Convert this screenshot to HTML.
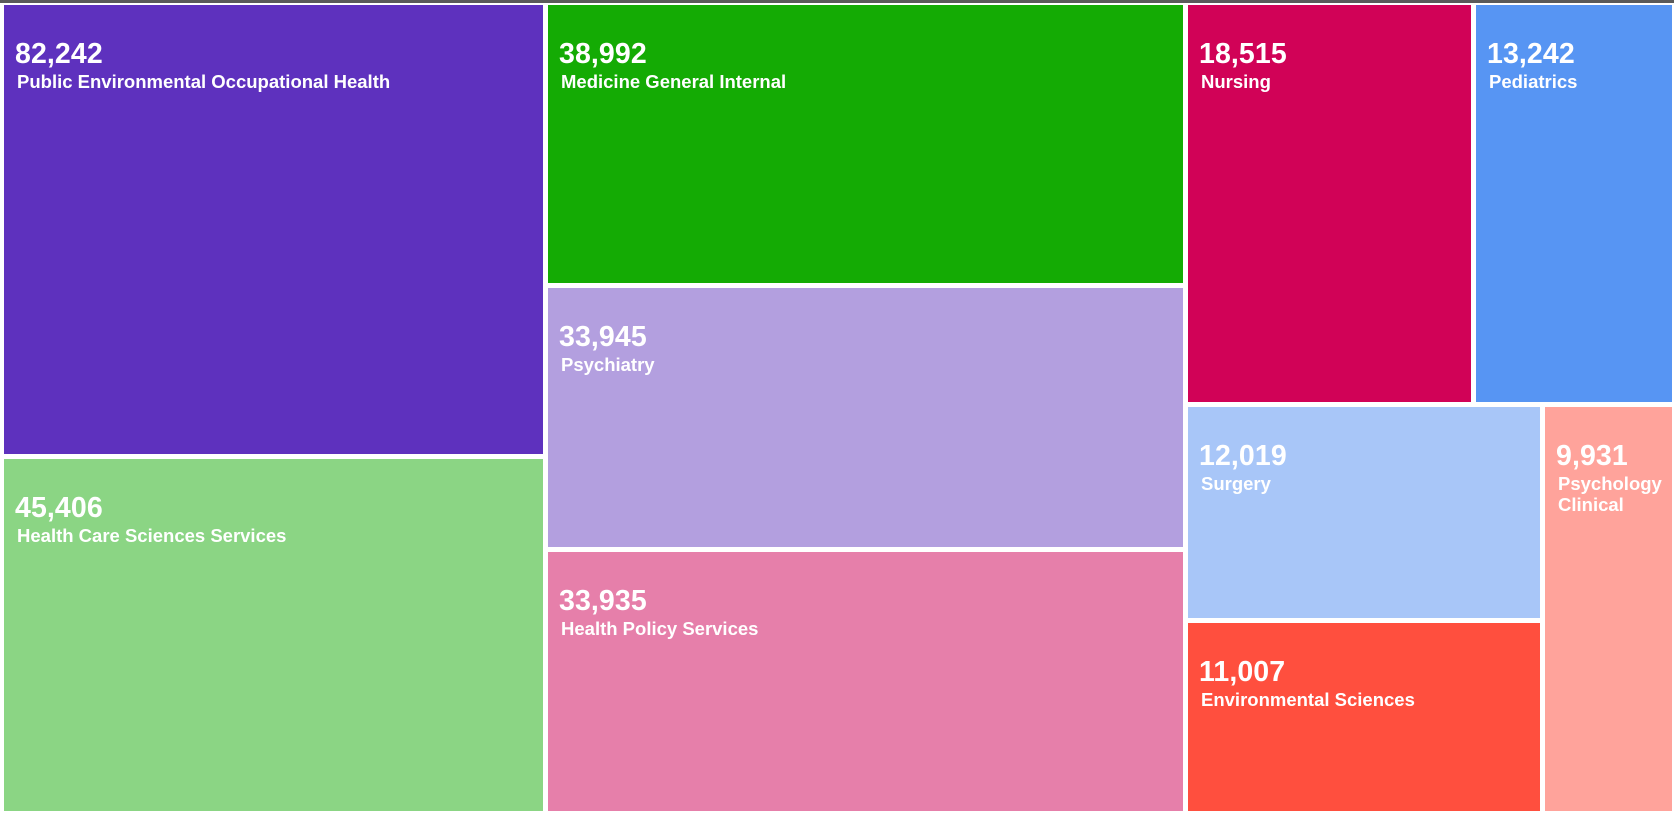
<!DOCTYPE html>
<html><head><meta charset="utf-8"><style>
html,body{margin:0;padding:0;background:#fff;width:1674px;height:814px;overflow:hidden;font-family:"Liberation Sans",sans-serif}
#topbar{position:absolute;left:0;top:0;width:1674px;height:3px;background:#5a5a5a}
#chart{position:absolute;left:0;top:0;width:1674px;height:814px}
.tile{position:absolute;box-sizing:border-box;overflow:hidden;color:#fff}
.val{position:absolute;left:11px;top:33px;font-size:28.5px;font-weight:bold;letter-spacing:0.1px}
.nm{position:absolute;left:13px;top:66px;font-size:18.5px;font-weight:bold;line-height:21px}
</style></head><body>
<div id="topbar"></div>
<div id="chart"></div>
<script>
const categories=["Public Environmental Occupational Health","Health Care Sciences Services","Medicine General Internal","Psychiatry","Health Policy Services","Nursing","Pediatrics","Surgery","Environmental Sciences","Psychology Clinical"];
const values=[82242,45406,38992,33945,33935,18515,13242,12019,11007,9931];
const colors=["#5E31BE","#8BD584","#14AB04","#B39FDF","#E67FAA","#D10257","#5795F3","#A8C6F8","#FF4F3E","#FFA39B"];
// layout geometry (not data)
const X0=4,Y0=5,X1=1672,Y1=811,GAP=5;
const colFrac=[504,594,453];
const chart=document.getElementById('chart');
const w=(v,p)=>Math.pow(v,p||0.5);
function tile(i,x,y,wd,ht){
  const d=document.createElement('div');
  d.className='tile';
  
  
  d.style.cssText=`left:${x}px;top:${y}px;width:${wd}px;height:${ht}px;background:${colors[i]}`;
  const v=document.createElement('div');v.className='val';v.textContent=values[i].toLocaleString('en-US');
  
  
  const n=document.createElement('div');n.className='nm';n.textContent=categories[i];n.style.width=(wd-20)+'px';
  
  
  d.appendChild(v);d.appendChild(n);chart.appendChild(d);
}
function vsplit(idx,x,y,wd,ht,p){
  const tot=idx.reduce((s,i)=>s+w(values[i],p),0);const avail=ht-GAP*(idx.length-1);let cy=y;
  idx.forEach((i,k)=>{const h=k==idx.length-1?y+ht-cy:Math.round(avail*w(values[i],p)/tot);tile(i,x,cy,wd,h);cy+=h+GAP;});
}
function hsplitW(idx){return idx.reduce((s,i)=>s+w(values[i]),0);}
const totalW=X1-X0-GAP*2, fs=colFrac.reduce((a,b)=>a+b,0);
const cw=colFrac.map(f=>Math.round(totalW*f/fs));
let cx=X0;
vsplit([0,1],cx,Y0,cw[0],Y1-Y0,0.41);cx+=cw[0]+GAP;
vsplit([2,3,4],cx,Y0,cw[1],Y1-Y0,0.5);cx+=cw[1]+GAP;
const c3w=X1-cx, H=Y1-Y0-GAP;
const topW=hsplitW([5,6]), botW=hsplitW([7,8,9]);
const topH=Math.round(H*topW/(topW+botW)*1.115);
const fw=Math.round((c3w-GAP)*w(values[5])/topW*1.09);
tile(5,cx,Y0,fw,topH);tile(6,cx+fw+GAP,Y0,c3w-fw-GAP,topH);
const by=Y0+topH+GAP,bh=Y1-by;
const lw=Math.round((c3w-GAP)*hsplitW([7,8])/botW*1.075);
vsplit([7,8],cx,by,lw,bh,1.28);
tile(9,cx+lw+GAP,by,c3w-lw-GAP,bh);
</script>
</body></html>
